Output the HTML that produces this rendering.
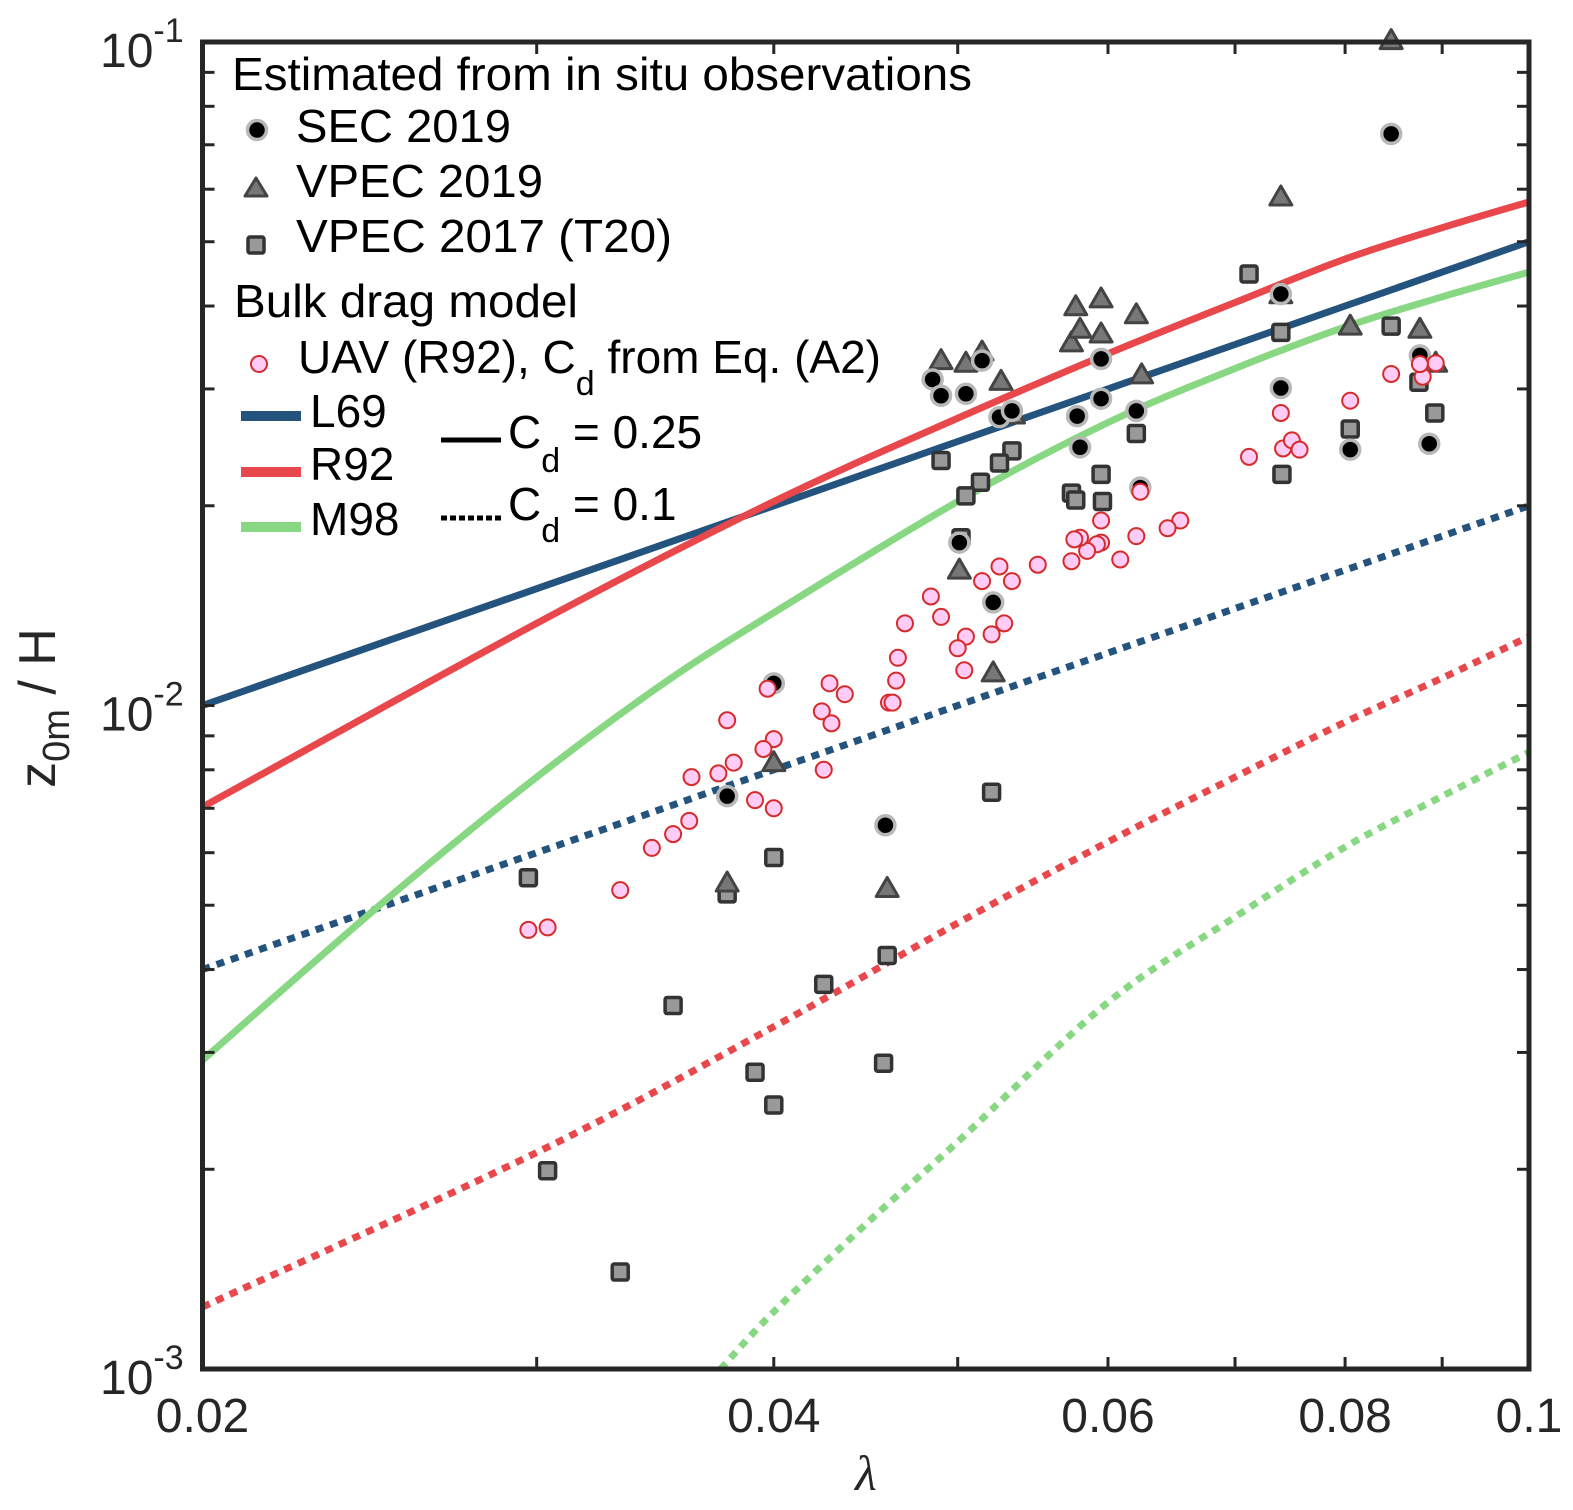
<!DOCTYPE html>
<html><head><meta charset="utf-8"><style>
html,body{margin:0;padding:0;background:#fff;}
svg{display:block;font-family:"Liberation Sans",Arial,sans-serif;}
</style></head><body>
<svg id="chart" width="1573" height="1510" viewBox="0 0 1573 1510" xmlns="http://www.w3.org/2000/svg">
<rect x="0" y="0" width="1573" height="1510" fill="#fff"/>
<g id="lines"></g>
<g id="marks"></g>
<g id="axes"></g>
</svg>
<script>
// ---- data ----
const xTickValues = [0.02,0.03,0.04,0.05,0.06,0.07,0.08,0.09,0.1];
const xTickLabels = ["0.02","","0.04","","0.06","","0.08","","0.1"];
const yDecades = [-1,-2,-3];

// model curves (lambda, z0m/H)
const modelLambda = [0.02,0.03,0.04,0.05,0.06,0.07,0.08,0.09,0.1];
const l69Solid  = [0.0100,0.0150,0.0200,0.0250,0.0300,0.0350,0.0400,0.0450,0.0500];
const l69Dotted = [0.0040,0.0060,0.0080,0.0100,0.0120,0.0140,0.0160,0.0180,0.0200];
const r92Solid  = [0.00703,0.0133,0.0203,0.0271,0.0339,0.0405,0.0471,0.0525,0.0574];
const r92Dotted = [0.00124,0.00212,0.00328,0.00470,0.00623,0.00780,0.00944,0.0110,0.0127];
const m98Lambda = [0.02,0.025,0.03,0.035,0.04,0.05,0.06,0.07,0.08,0.09,0.1];
const m98Solid  = [0.00292,0.0051,0.0078,0.0108,0.0138,0.0203,0.0267,0.0322,0.0372,0.0413,0.0450];
const m98DotLambda = [0.0375,0.04,0.045,0.05,0.06,0.07,0.08,0.09,0.1];
const m98Dotted = [0.00100,0.00122,0.00168,0.00220,0.00357,0.00480,0.00612,0.0073,0.0085];

// observations
const secLambda = [0.0846,0.0485,0.049,0.0505,0.0515,0.0526,0.0534,0.0578,0.058,0.0595,0.0595,0.0621,0.0624,0.0501,0.0522,0.040,0.0378,0.0458,0.074,0.074,0.0805,0.0876,0.0886];
const secZ      = [0.0727,0.031,0.0293,0.0295,0.0331,0.0272,0.0278,0.0273,0.0245,0.0333,0.029,0.0278,0.0213,0.0176,0.0143,0.0108,0.0073,0.0066,0.0417,0.0301,0.0243,0.0337,0.0248];
const vp19Lambda = [0.0846,0.074,0.074,0.0805,0.0876,0.0893,0.049,0.0505,0.0515,0.0527,0.0535,0.0577,0.0574,0.058,0.0595,0.0595,0.0621,0.0625,0.0501,0.0522,0.040,0.0378,0.0459];
const vp19Z      = [0.1005,0.0584,0.0416,0.0373,0.0369,0.0328,0.0331,0.0328,0.0341,0.0308,0.0274,0.0399,0.0352,0.0369,0.041,0.0363,0.0388,0.0315,0.016,0.0112,0.0082,0.0054,0.0053];
const vp17Lambda = [0.0712,0.074,0.0846,0.0875,0.0892,0.0805,0.0741,0.0621,0.0595,0.0596,0.0574,0.0577,0.0534,0.0526,0.0514,0.0505,0.049,0.0502,0.0521,0.040,0.0378,0.0297,0.0354,0.0425,0.0459,0.0391,0.040,0.0457,0.0304,0.0332];
const vp17Z      = [0.0447,0.0365,0.0373,0.0307,0.0276,0.0261,0.0223,0.0257,0.0223,0.0203,0.0209,0.0204,0.0242,0.0232,0.0217,0.0207,0.0234,0.0179,0.0074,0.0059,0.0052,0.0055,0.00353,0.0038,0.0042,0.0028,0.0025,0.00289,0.00199,0.0014];
const uavLambda = [0.0846,0.0879,0.0893,0.0876,0.0805,0.074,0.0742,0.075,0.0757,0.0712,0.0655,0.0645,0.0621,0.0624,0.0609,0.0595,0.0595,0.0592,0.0585,0.058,0.0576,0.0574,0.0551,0.0534,0.0526,0.0515,0.0484,0.049,0.0505,0.050,0.0504,0.0521,0.0529,0.0469,0.0465,0.0464,0.046,0.0462,0.0428,0.0436,0.0424,0.0429,0.0425,0.0397,0.040,0.0395,0.0381,0.0374,0.0378,0.0391,0.040,0.0362,0.0361,0.0354,0.0345,0.0332,0.0297,0.0304];
const uavZ      = [0.0316,0.0313,0.0328,0.0327,0.0288,0.0276,0.0244,0.0251,0.0243,0.0237,0.019,0.0185,0.018,0.021,0.0166,0.019,0.0176,0.0175,0.0171,0.0179,0.0178,0.0165,0.0163,0.0154,0.0162,0.0154,0.0146,0.0136,0.0127,0.0122,0.0113,0.0128,0.0133,0.0133,0.0118,0.0109,0.0101,0.0101,0.0108,0.0104,0.0098,0.0094,0.0080,0.0106,0.0089,0.0086,0.0082,0.0079,0.0095,0.0072,0.0070,0.0078,0.0067,0.0064,0.0061,0.00527,0.00459,0.00463];

// ---- scales ----
const X0=202.5, X1=1529, Y0=42, Y1=1369;
const lx0=Math.log10(0.02), lx1=Math.log10(0.1);
function sx(v){return X0+(Math.log10(v)-lx0)/(lx1-lx0)*(X1-X0);}
function sy(v){return Y0+(-1-Math.log10(v))/2*(Y1-Y0);}
const NS="http://www.w3.org/2000/svg";
function mk(tag,attrs,parent){const e=document.createElementNS(NS,tag);for(const k in attrs)e.setAttribute(k,attrs[k]);if(parent)parent.appendChild(e);return e;}

const lines=document.getElementById('lines');
const marks=document.getElementById('marks');
const axes=document.getElementById('axes');

function smoothPath(P){
  let d="M"+P[0][0].toFixed(1)+","+P[0][1].toFixed(1);
  for(let i=0;i<P.length-1;i++){
    const p0=P[Math.max(0,i-1)],p1=P[i],p2=P[i+1],p3=P[Math.min(P.length-1,i+2)];
    const c1x=p1[0]+(p2[0]-p0[0])/6, c1y=p1[1]+(p2[1]-p0[1])/6;
    const c2x=p2[0]-(p3[0]-p1[0])/6, c2y=p2[1]-(p3[1]-p1[1])/6;
    d+=` C${c1x.toFixed(1)},${c1y.toFixed(1)} ${c2x.toFixed(1)},${c2y.toFixed(1)} ${p2[0].toFixed(1)},${p2[1].toFixed(1)}`;
  }
  return d;
}
function drawLine(xs,ys,color,dotted,name){
  const P=xs.map((x,i)=>[sx(x),sy(ys[i])]);
  const p=mk('path',{d:smoothPath(P),fill:'none',stroke:color,'stroke-width':7},lines);
  if(dotted)p.setAttribute('stroke-dasharray','8 7');
  
  
}
const BLUE="#24537e", RED="#e8474c", GREEN="#88d883";
drawLine(modelLambda,l69Dotted,BLUE,true,'l69-cd01-line');
drawLine(modelLambda,r92Dotted,RED,true,'r92-cd01-line');
drawLine(m98DotLambda,m98Dotted,GREEN,true,'m98-cd01-line');
drawLine(m98Lambda,m98Solid,GREEN,false,'m98-cd025-line');
drawLine(modelLambda,l69Solid,BLUE,false,'l69-cd025-line');
drawLine(modelLambda,r92Solid,RED,false,'r92-cd025-line');

function square(cx,cy,parent){return mk('rect',{x:cx-8,y:cy-8,width:16,height:16,rx:2,fill:'#999',stroke:'#333','stroke-width':3.5},parent);}
function tri(cx,cy,parent){return mk('polygon',{points:`${cx},${cy-11} ${cx+11},${cy+8} ${cx-11},${cy+8}`,fill:'#777',stroke:'#444','stroke-width':3,'stroke-linejoin':'round'},parent);}
function sec(cx,cy,parent){return mk('circle',{cx:cx,cy:cy,r:9.5,fill:'#000',stroke:'#b8b8b8','stroke-width':3.5},parent);}
function uav(cx,cy,parent){return mk('circle',{cx:cx,cy:cy,r:8,fill:'#ffccf7',stroke:'#d62b2b','stroke-width':2},parent);}

vp17Lambda.forEach((l,i)=>{const e=square(sx(l),sy(vp17Z[i]),marks);
  
  });
vp19Lambda.forEach((l,i)=>{const e=tri(sx(l),sy(vp19Z[i]),marks);
  
  });
secLambda.forEach((l,i)=>{const e=sec(sx(l),sy(secZ[i]),marks);
  
  });
uavLambda.forEach((l,i)=>{const e=uav(sx(l),sy(uavZ[i]),marks);
  
  });

// ---- axes ----
const AX="#262626";
xTickValues.forEach((v,i)=>{
  const x=sx(v);
  const t1=mk('line',{x1:x,y1:Y1,x2:x,y2:Y1-12,stroke:AX,'stroke-width':3},axes);
  
  
  const t2=mk('line',{x1:x,y1:Y0,x2:x,y2:Y0+12,stroke:AX,'stroke-width':3},axes);
  
  
  if(xTickLabels[i]){
    const t=mk('text',{x:x,y:1432,'font-size':48,'text-anchor':'middle',fill:AX},axes);
    t.textContent=xTickLabels[i];
    
    
  }
});
for(let d=-3; d<-1; d++){
  for(let m=1;m<=9;m++){
    const v=m*Math.pow(10,d); const y=sy(v);
    const t1=mk('line',{x1:X0,y1:y,x2:X0+12,y2:y,stroke:AX,'stroke-width':3},axes);
    
    
    const t2=mk('line',{x1:X1,y1:y,x2:X1-12,y2:y,stroke:AX,'stroke-width':3},axes);
    
    
  }
}
yDecades.forEach(d=>{
  const y=sy(Math.pow(10,d));
  const t=mk('text',{x:100,y:y+25,'font-size':48,fill:AX},axes);
  
  
  t.textContent="10";
  const s=mk('tspan',{'font-size':34,dy:-25},t);
  s.textContent=String(d);
});
const frame=mk('rect',{x:X0,y:Y0,width:X1-X0,height:Y1-Y0,fill:'none',stroke:AX,'stroke-width':5},axes);


</script>
<svg style="position:absolute;left:0;top:0" width="1573" height="1510">
<text x="866" y="1490" font-size="50" font-style="italic" font-family="Liberation Serif, serif" text-anchor="middle" fill="#262626">λ</text>
<text transform="translate(55,708) rotate(-90)" font-size="52" text-anchor="middle" fill="#262626">z<tspan font-size="38" dy="14">0m</tspan><tspan dy="-14"> / H</tspan></text>
<g font-size="46" fill="#000">
<text x="232" y="90" textLength="740" lengthAdjust="spacingAndGlyphs">Estimated from in situ observations</text>
<circle cx="257" cy="130" r="9.5" fill="#000" stroke="#b8b8b8" stroke-width="3.5"/>
<text x="296" y="142" textLength="215" lengthAdjust="spacingAndGlyphs">SEC 2019</text>
<polygon points="256,178 267,196 245,196" fill="#777" stroke="#444" stroke-width="3" stroke-linejoin="round"/>
<text x="296" y="197" textLength="247" lengthAdjust="spacingAndGlyphs">VPEC 2019</text>
<rect x="248" y="237" width="16" height="16" rx="2" fill="#999" stroke="#333" stroke-width="3.5"/>
<text x="296" y="252" textLength="376" lengthAdjust="spacingAndGlyphs">VPEC 2017 (T20)</text>
<text x="234" y="317" textLength="344" lengthAdjust="spacingAndGlyphs">Bulk drag model</text>
<circle cx="259" cy="364" r="8" fill="#ffccf7" stroke="#d62b2b" stroke-width="2"/>
<text x="298" y="373">UAV (R92), C<tspan font-size="34" dy="22">d</tspan><tspan dy="-22"> from Eq. (A2)</tspan></text>
<line x1="241" y1="416" x2="301" y2="416" stroke="#24537e" stroke-width="10"/>
<text x="310" y="427">L69</text>
<line x1="241" y1="472" x2="301" y2="472" stroke="#e8474c" stroke-width="10"/>
<text x="310" y="480">R92</text>
<line x1="241" y1="527" x2="301" y2="527" stroke="#88d883" stroke-width="10"/>
<text x="310" y="535">M98</text>
<line x1="441" y1="440" x2="501" y2="440" stroke="#000" stroke-width="5"/>
<text x="508" y="448">C<tspan font-size="34" dy="24">d</tspan><tspan dy="-24"> = 0.25</tspan></text>
<line x1="441" y1="518" x2="501" y2="518" stroke="#000" stroke-width="5" stroke-dasharray="6 3"/>
<text x="508" y="520">C<tspan font-size="34" dy="22">d</tspan><tspan dy="-22"> = 0.1</tspan></text>
</g>
</svg>
</body></html>
